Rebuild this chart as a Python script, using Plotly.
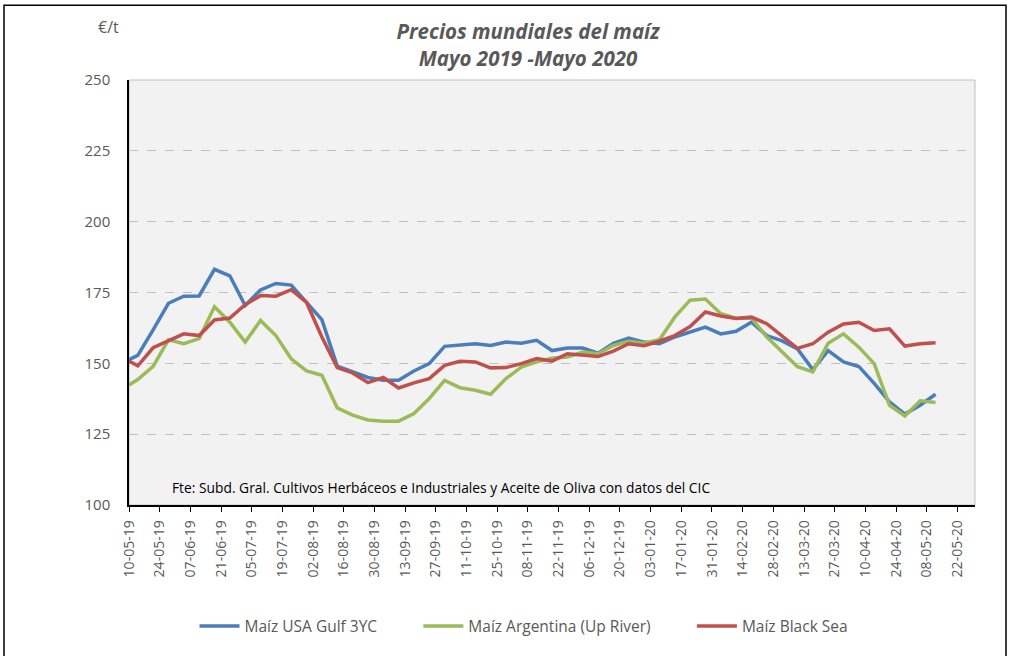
import plotly.graph_objects as go
import pandas as pd

# Dates: first point 10-05-19, then weekly from 14-05-19 to 12-05-20
dates = ["2019-05-10"] + [d.strftime("%Y-%m-%d") for d in pd.date_range("2019-05-14", periods=53, freq="7D")]

usa_gulf = [151.3, 152.8, 161.8, 171.2, 173.7, 173.8, 183.2, 180.9, 170.4, 175.9,
            178.2, 177.6, 171.5, 165.4, 149.0, 147.0, 145.0, 144.0, 144.0, 147.3,
            149.9, 156.0, 156.3, 156.9, 156.3, 157.5, 157.1, 158.1, 154.5, 155.4,
            155.4, 153.6, 157.1, 158.9, 157.5, 156.9, 159.3, 161.0, 162.8, 160.4,
            161.3, 164.5, 159.8, 157.9, 155.1, 147.8, 154.5, 150.5, 148.9, 142.9,
            136.4, 132.1, 135.2, 139.1]

argentina = [142.3, 144.3, 148.9, 158.3, 156.9, 158.7, 170.0, 164.5, 157.5, 165.1,
             159.8, 151.6, 147.3, 145.8, 134.3, 131.7, 130.0, 129.6, 129.6, 132.3,
             137.6, 144.0, 141.4, 140.5, 139.1, 144.6, 148.7, 150.5, 151.8, 152.2,
             154.0, 153.4, 156.3, 157.8, 157.1, 158.3, 166.3, 172.3, 172.7, 167.5,
             165.9, 166.0, 159.3, 154.0, 148.8, 147.0, 157.1, 160.4, 155.7, 149.9,
             135.2, 131.4, 136.8, 136.2]

black_sea = [150.8, 149.1, 155.5, 157.8, 160.4, 159.8, 165.3, 166.0, 170.7, 173.9,
             173.7, 176.0, 171.5, 159.3, 148.5, 146.6, 143.2, 145.0, 141.3, 143.1,
             144.6, 149.3, 150.7, 150.5, 148.4, 148.5, 149.9, 151.7, 150.8, 153.4,
             152.8, 152.4, 154.3, 156.9, 156.2, 157.8, 159.8, 163.0, 168.1, 166.7,
             165.8, 166.3, 164.0, 159.5, 155.3, 156.9, 161.0, 163.9, 164.5, 161.6,
             162.2, 156.1, 156.9, 157.3]

series_names = ["Maíz USA Gulf 3YC", "Maíz Argentina (Up River)", "Maíz Black Sea"]
series_colors = ["#4A7EBB", "#9BBB59", "#C0504D"]

title_lines = ["Precios mundiales del maíz", "Mayo 2019 -Mayo 2020"]
unit_text = "€/t"
source_text = "Fte: Subd. Gral. Cultivos Herbáceos e Industriales y Aceite de Oliva con datos del CIC"

FONT = "Open Sans, Liberation Sans, sans-serif"
GREY = "#595959"
PAD = "\u00a0" * 9

fig = go.Figure()
for i, (name, vals, col) in enumerate(zip(series_names, [usa_gulf, argentina, black_sea], series_colors)):
    label = name + (PAD if i < len(series_names) - 1 else "")
    fig.add_trace(go.Scatter(x=dates, y=vals, name=label, mode="lines",
                             line=dict(color=col, width=3.5)))

fig.update_layout(
    width=1015, height=656,
    margin=dict(l=129, r=40, t=80, b=149),
    paper_bgcolor="white",
    plot_bgcolor="#F2F2F2",
    font=dict(family=FONT, color=GREY),
    title=dict(text="<br>".join("<b><i>" + t + "</i></b>" for t in title_lines),
               x=528 / 1015, xanchor="center", y=1 - 39 / 656, yanchor="middle",
               font=dict(size=20.5, color=GREY, family=FONT)),
    showlegend=True,
    legend=dict(orientation="h", x=(524 - 129) / 846, xanchor="center",
                y=(507 - 629) / 427, yanchor="middle",
                font=dict(size=15.5, color=GREY, family=FONT),
                itemwidth=40, bgcolor="rgba(0,0,0,0)"),
)

fig.update_xaxes(
    type="date",
    range=["2019-05-10", "2020-05-30"],
    tick0="2019-05-10", dtick=14 * 86400000,
    tickformat="%d-%m-%y", tickangle=-90,
    ticks="outside", ticklen=5, tickcolor="black",
    ticklabelstandoff=3,
    showline=True, linecolor="black", linewidth=1.5,
    showgrid=False, zeroline=False,
    tickfont=dict(size=14, color=GREY, family=FONT),
)
fig.update_yaxes(
    range=[100, 250], dtick=25, tick0=100,
    showline=True, linecolor="black", linewidth=1.5,
    showgrid=True, gridcolor="#BFBFBF", griddash="dash", gridwidth=1,
    zeroline=False, ticks="", ticklabelstandoff=14,
    tickfont=dict(size=15, color=GREY, family=FONT),
)

# plot area border (light grey) and outer chart border
fig.add_shape(type="rect", xref="paper", yref="paper", x0=0, x1=1, y0=0, y1=1,
              line=dict(color="#BFBFBF", width=1), layer="below")
fig.add_shape(type="rect", xref="paper", yref="paper",
              x0=(4 - 129) / 846, x1=(1006 - 129) / 846,
              y0=(507 - 700) / 427, y1=(507 - 5) / 427,
              line=dict(color="black", width=1.5))

fig.add_annotation(text=unit_text, xref="paper", yref="paper",
                   x=(108 - 129) / 846, y=(507 - 27) / 427, showarrow=False,
                   xanchor="center", yanchor="middle",
                   font=dict(size=16, color=GREY, family=FONT))
fig.add_annotation(text=source_text, xref="paper", yref="paper",
                   x=(170 - 129) / 846, y=(507 - 489) / 427, showarrow=False,
                   xanchor="left", yanchor="middle",
                   font=dict(size=13.8, color="black", family=FONT))

fig.write_html("out.html", config={"displayModeBar": False},
               post_script="document.body.style.margin='0px';")
